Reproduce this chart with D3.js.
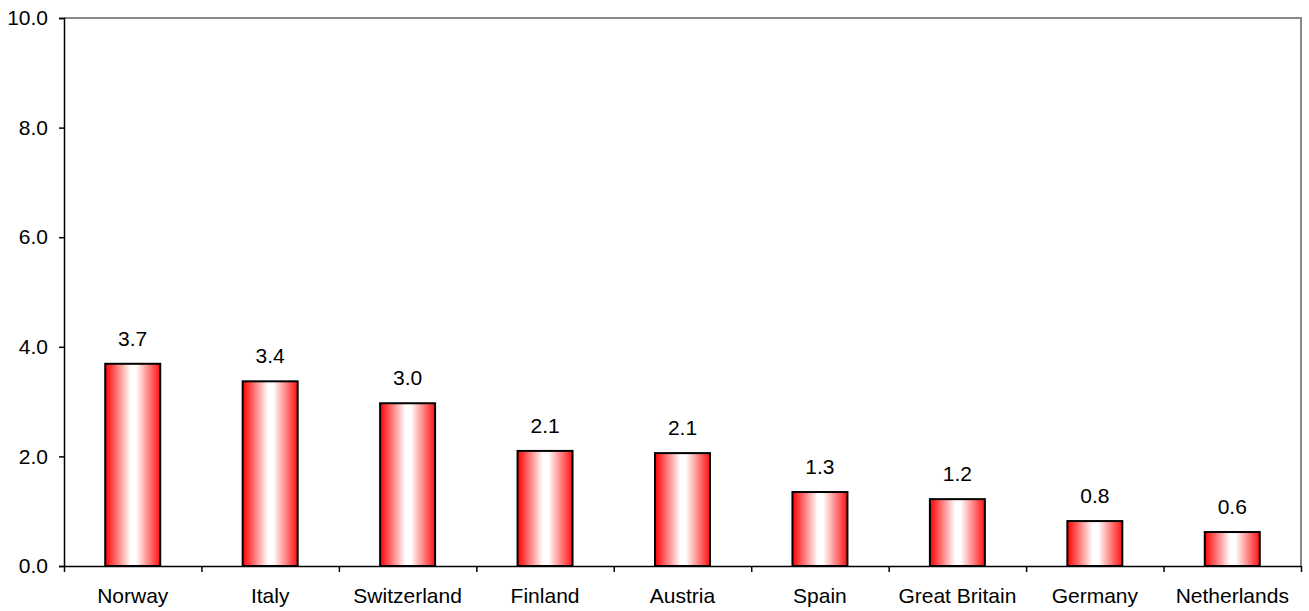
<!DOCTYPE html>
<html>
<head>
<meta charset="utf-8">
<script src="https://cdn.jsdelivr.net/npm/d3@7"></script>
<style>
  body { margin: 0; background: #fff; }
  text { font-family: "Liberation Sans", Arial, sans-serif; fill: #000; }
</style>
</head>
<body>
<div class="plots"></div>
<script>
var countries = ["Norway","Italy","Switzerland","Finland","Austria","Spain","Great Britain","Germany","Netherlands"];
var values = [3.69, 3.37, 2.97, 2.1, 2.06, 1.35, 1.22, 0.82, 0.62];
var labels = ["3.7","3.4","3.0","2.1","2.1","1.3","1.2","0.8","0.6"];
var yTicks = [0, 2, 4, 6, 8, 10];

var width = 1309, height = 611;
var margin = {top: 18, right: 8, bottom: 45, left: 64};
var fontSize = "21px";

var svg = d3.select(".plots").append("svg")
    .attr("width", width)
    .attr("height", height);

var grad = svg.append("defs").append("linearGradient")
    .attr("id", "barGrad")
    .attr("x1", "0%").attr("x2", "100%").attr("y1", "0%").attr("y2", "0%");
grad.append("stop").attr("offset", "0%").attr("stop-color", "#ff0000");
grad.append("stop").attr("offset", "46%").attr("stop-color", "#ffffff");
grad.append("stop").attr("offset", "56%").attr("stop-color", "#ffffff");
grad.append("stop").attr("offset", "100%").attr("stop-color", "#ff1010");

var x = d3.scaleBand()
    .domain(countries)
    .range([margin.left, width - margin.right])
    .paddingInner(0.6)
    .paddingOuter(0.3);

var y = d3.scaleLinear()
    .domain([0, 10])
    .range([height - margin.bottom, margin.top]);

// plot border (top & right grey)
svg.append("path")
    .attr("d", "M" + margin.left + "," + margin.top + "H" + (width - margin.right) + "V" + (height - margin.bottom))
    .attr("fill", "none")
    .attr("stroke", "#888")
    .attr("stroke-width", 2);

var yAxis = svg.append("g")
    .attr("transform", "translate(" + margin.left + ",0)")
    .call(d3.axisLeft(y).tickValues(yTicks).tickFormat(d3.format(".1f")).tickSize(5).tickPadding(11));
yAxis.select(".domain").attr("stroke", "#000").attr("stroke-width", 1.5);
yAxis.selectAll(".tick line").attr("stroke", "#000").attr("stroke-width", 1.5);
yAxis.selectAll("text").style("font-size", fontSize).attr("font-family", "Liberation Sans, Arial, sans-serif");

// category ticks between bars
var xb = d3.scaleLinear().domain([0, countries.length]).range([margin.left, width - margin.right]);
var xAxis = svg.append("g")
    .attr("transform", "translate(0," + (height - margin.bottom) + ")")
    .call(d3.axisBottom(xb).tickValues(d3.range(0, countries.length + 1)).tickFormat("").tickSize(6).tickSizeOuter(0));
xAxis.select(".domain").attr("stroke", "#000").attr("stroke-width", 1.5);
xAxis.selectAll(".tick line").attr("stroke", "#000").attr("stroke-width", 1.5);

svg.selectAll(".cat")
    .data(countries)
    .enter().append("text")
    .attr("class", "cat")
    .attr("x", function(d) { return x(d) + x.bandwidth() / 2; })
    .attr("y", height - margin.bottom + 37)
    .attr("text-anchor", "middle")
    .style("font-size", fontSize)
    .text(function(d) { return d; });

svg.selectAll(".bar")
    .data(values)
    .enter().append("rect")
    .attr("class", "bar")
    .attr("x", function(d, i) { return x(countries[i]); })
    .attr("y", function(d) { return y(d); })
    .attr("width", x.bandwidth())
    .attr("height", function(d) { return y(0) - y(d); })
    .attr("fill", "url(#barGrad)")
    .attr("stroke", "#000")
    .attr("stroke-width", 2);

svg.selectAll(".val")
    .data(values)
    .enter().append("text")
    .attr("class", "val")
    .attr("x", function(d, i) { return x(countries[i]) + x.bandwidth() / 2; })
    .attr("y", function(d) { return y(d) - 18; })
    .attr("text-anchor", "middle")
    .style("font-size", fontSize)
    .text(function(d, i) { return labels[i]; });
</script>
</body>
</html>
